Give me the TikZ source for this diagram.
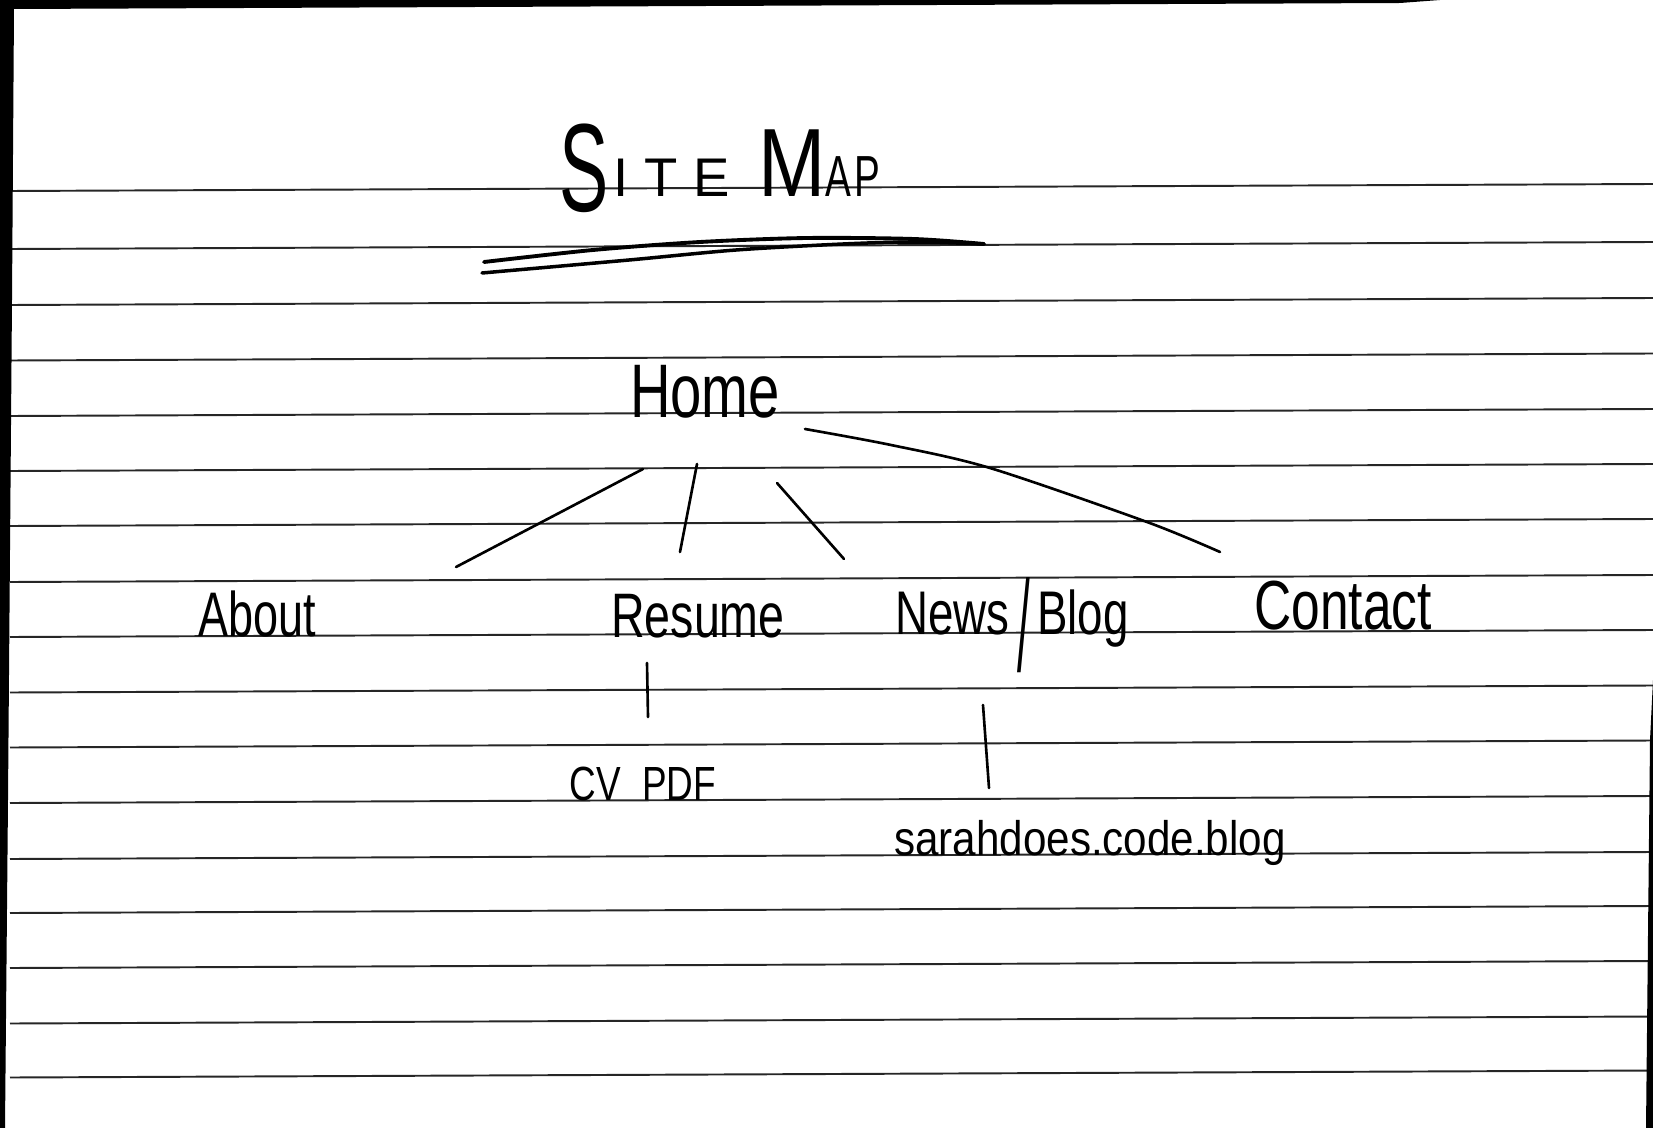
\documentclass[tikz,border=0pt]{standalone}
\usepackage{fontspec}
\setmainfont{Liberation Sans}
\newcommand{\hw}[3]{\scalebox{1}[#2]{\fontsize{#1}{#1}\selectfont #3}}
\tikzset{
  paperline/.style={line width=1.1pt, black!85},
  pen/.style={line width=1.5pt, line cap=round, line join=round},
  hand/.style={inner sep=0pt, anchor=base},
  scanedge/.style={fill=black, draw=none}
}
\begin{document}
\begin{tikzpicture}[x=0.02cm, y=-0.02cm]
\useasboundingbox (0,0) rectangle (1653,1128);
\fill[white] (0,0) rectangle (1653,1128);
% ruled lines
\foreach \yy in {191,249,305,360.5,416,471,526,582,637,692.5,747.5,803,859,913,968,1023.5,1077.5}
  \draw[paperline] (10,\yy) -- (1653,\yy-7);
% scan edges
\fill[scanedge] (0,0) -- (1440,0) -- (1400,3) -- (14,9) -- (12,300) -- (8,800) -- (5,1128) -- (0,1128) -- cycle;
\fill[scanedge] (1653,680) -- (1652,700) -- (1650,740) -- (1646,1128) -- (1653,1128) -- cycle;
% title
\node[hand, anchor=base west] (title) at (559,197) {\raisebox{-8pt}{\hw{42}{1.7}{S}}\hspace{3pt}\hw{31}{1}{I\hspace{9pt}T\hspace{9pt}E}\hspace{16pt}\hw{46}{1.2}{M}\hw{22}{1.5}{A\hspace{2pt}P}};
\draw[pen, line width=2.2pt] plot[smooth] coordinates {(484,262) (593,250) (700,242) (807,238) (914,239) (984,244)};
\draw[pen, line width=2pt] plot[smooth] coordinates {(984,244) (914,242) (843,244) (736,250) (629,260) (482,273)};
% nodes
\node[hand] (home) at (705,418) {\hw{32}{1.35}{Home}};
\node[hand] (about) at (257,636) {\hw{25.6}{1.4}{About}};
\node[hand] (resume) at (698,637) {\hw{26.5}{1.35}{Resume}};
\node[hand] (news) at (1012,634) {\hw{26}{1.35}{News\,\raisebox{-16pt}{\scalebox{1}[2.1]{/}}\,Blog}};
\node[hand] (contact) at (1343,629) {\hw{29.3}{1.35}{Contact}};
\node[hand] (cv) at (643,800) {\hw{21}{1.3}{CV\hspace{12pt}PDF}};
\node[hand] (blog) at (1090,855) {\hw{24}{1.15}{sarahdoes.code.blog}};
% connector ends
\coordinate (home-about) at (643,469);
\coordinate (about-top) at (456,567);
\coordinate (home-resume) at (697,464);
\coordinate (resume-top) at (680,552);
\coordinate (home-news) at (777,483);
\coordinate (news-top) at (844,559);
\coordinate (home-contact) at (805,429);
\coordinate (contact-top) at (1220,552);
\coordinate (resume-bottom) at (647,663);
\coordinate (cv-top) at (648,717);
\coordinate (news-bottom) at (983,705);
\coordinate (blog-top) at (989,788);
% connectors
\draw[pen] (home-about) -- (about-top);
\draw[pen] (home-resume) -- (resume-top);
\draw[pen] (home-news) -- (news-top);
\draw[pen] plot[smooth] coordinates {(home-contact) (891,445) (990,468) (1147,522) (contact-top)};
\draw[pen] (resume-bottom) -- (cv-top);
\draw[pen] (news-bottom) -- (blog-top);
\end{tikzpicture}
\end{document}
